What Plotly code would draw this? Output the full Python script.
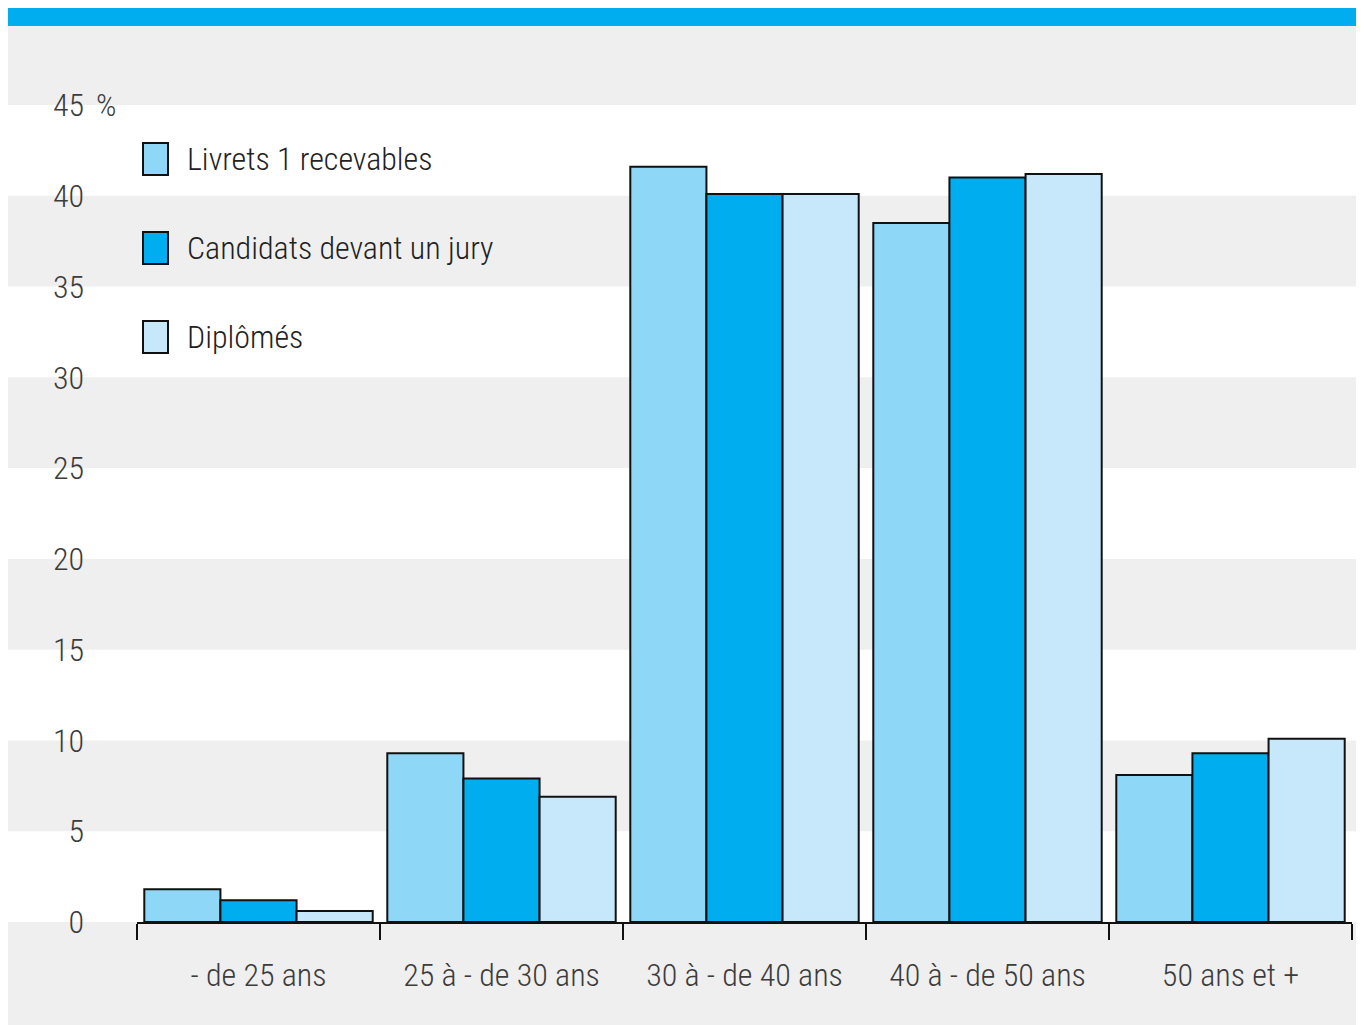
import plotly.graph_objects as go

categories = ["- de 25 ans", "25 à - de 30 ans", "30 à - de 40 ans", "40 à - de 50 ans", "50 ans et +"]
series_names = ["Livrets 1 recevables", "Candidats devant un jury", "Diplômés"]
livrets = [1.8, 9.3, 41.6, 38.5, 8.1]
candidats = [1.2, 7.9, 40.1, 41.0, 9.3]
diplomes = [0.6, 6.9, 40.1, 41.2, 10.1]
series_values = [livrets, candidats, diplomes]
colors = ["#8fd7f7", "#00aeef", "#c7e8fa"]
y_ticks = [0, 5, 10, 15, 20, 25, 30, 35, 40, 45]
y_ticktext = ["0", "5", "10", "15", "20", "25", "30", "35", "40", "45"]

# page is drawn with an 8px body offset; figure coordinates below
W, H = 1356, 1017
L, R, T, B = 129, 12, 97, 103
PW, PH = W - L - R, H - T - B

def px_x(x):
    return (x - L) / PW

def px_y(y):
    return (H - B - y) / PH

FONT = "Roboto Condensed"
TXT = "#3c3c3c"
FS = 32

fig = go.Figure()
for name, vals, col in zip(series_names, series_values, colors):
    fig.add_trace(go.Bar(
        x=categories, y=vals, name=name, showlegend=False,
        marker=dict(color=col, line=dict(color="#111111", width=2)),
    ))

shapes = []
# top blue bar
shapes.append(dict(type="rect", xref="paper", yref="paper", x0=px_x(-20), x1=px_x(W + 20),
                   y0=px_y(18), y1=px_y(-5), fillcolor="#00aeef", line=dict(width=0), layer="below"))
# white bands
for i in range(0, len(y_ticks) - 1, 2):
    shapes.append(dict(type="rect", xref="paper", yref="y", x0=px_x(-20), x1=px_x(W + 20),
                       y0=y_ticks[i], y1=y_ticks[i + 1], fillcolor="#ffffff",
                       line=dict(width=0), layer="below"))

annotations = []
leg_y = [151, 240, 329]
for name, col, yc in zip(series_names, colors, leg_y):
    shapes.append(dict(type="rect", xref="paper", yref="paper", x0=px_x(135), x1=px_x(160),
                       y0=px_y(yc + 16), y1=px_y(yc - 16), fillcolor=col,
                       line=dict(color="#111111", width=2)))
    annotations.append(dict(text=name, xref="paper", yref="paper", x=px_x(177), y=px_y(yc),
                            xanchor="left", yanchor="middle", showarrow=False,
                            font=dict(family=FONT, size=FS, color="#222222", weight=300)))

annotations.append(dict(text="%", xref="paper", yref="y", x=px_x(86), y=45,
                        xanchor="left", yanchor="middle", showarrow=False,
                        font=dict(family=FONT, size=FS, color=TXT, weight=300)))

fig.update_layout(
    width=W, height=H,
    margin=dict(l=L, r=R, t=T, b=B, autoexpand=False),
    paper_bgcolor="#efefef", plot_bgcolor="rgba(0,0,0,0)",
    barmode="group", bargap=0.06, bargroupgap=0,
    font=dict(family=FONT, size=FS, color=TXT, weight=300),
    shapes=shapes, annotations=annotations,
    xaxis=dict(range=[-0.5, 4.5], showgrid=False, zeroline=False, automargin=False,
               showline=True, linecolor="#111111", linewidth=2, tickangle=0,
               ticks="outside", tickson="boundaries", ticklen=16, tickwidth=2, tickcolor="#111111",
               tickfont=dict(family=FONT, size=FS, color=TXT, weight=300), ticklabelstandoff=24),
    yaxis=dict(range=[0, 45], showgrid=False, zeroline=False, showline=False, automargin=False,
               tickvals=y_ticks, ticktext=y_ticktext, ticks="",
               tickfont=dict(family=FONT, size=FS, color=TXT, weight=300), ticklabelstandoff=52),
)

fig.write_html("out.html")
